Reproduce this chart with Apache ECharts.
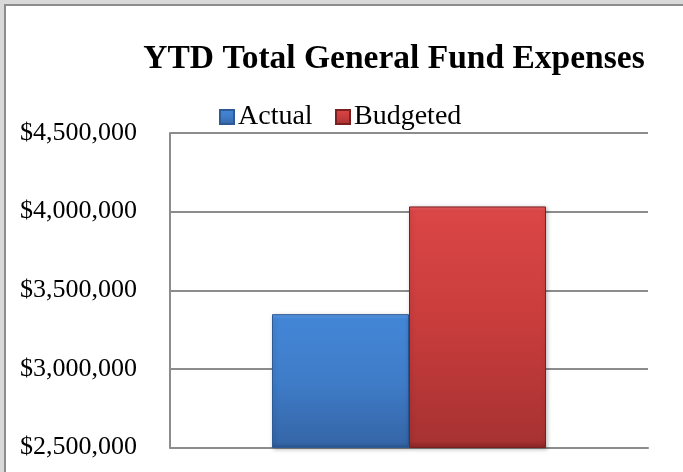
<!DOCTYPE html>
<html>
<head>
<meta charset="utf-8">
<script src="https://cdn.jsdelivr.net/npm/echarts@6/dist/echarts.min.js"></script>
<style>
html,body{margin:0;padding:0;background:#fff;}
#c{width:683px;height:472px;}
</style>
</head>
<body>
<div id="c"></div>
<script>
var categories = ['YTD'];
var seriesNames = ['Actual', 'Budgeted'];
var actualValues = [3348000];
var budgetedValues = [4033000];
var yTicks = [2500000, 3000000, 3500000, 4000000, 4500000];

var chart = echarts.init(document.getElementById('c'));
var serif = '"Liberation Serif", "DejaVu Serif", serif';
function fmt(v){ return '$' + v.toString().replace(/\B(?=(\d{3})+(?!\d))/g, ','); }
var legendText = { fontFamily: serif, fontSize: 28, color: '#000', padding: [0,0,0,-1] };

var option = {
  backgroundColor: '#ffffff',
  animation: false,
  title: {
    text: 'YTD Total General Fund Expenses',
    left: 389, top: 37, textAlign: 'center',
    textStyle: { fontFamily: serif, fontWeight: 'bold', fontSize: 33.5, color: '#000' }
  },
  legend: [
    { data: [seriesNames[0]], left: 214, top: 98, icon: 'rect', itemWidth: 14, itemHeight: 14, textStyle: legendText },
    { data: [seriesNames[1]], left: 330, top: 98, icon: 'rect', itemWidth: 14, itemHeight: 14, textStyle: legendText }
  ],
  grid: { left: 170, right: 35, top: 133, bottom: 24.5, containLabel: false },
  xAxis: {
    type: 'category', data: categories,
    axisLine: { show: true, lineStyle: { color: '#8c8c8c', width: 2 } },
    axisTick: { show: false }, axisLabel: { show: false }
  },
  yAxis: {
    type: 'value', min: yTicks[0], max: yTicks[yTicks.length-1], interval: 500000,
    axisLine: { show: true, lineStyle: { color: '#8c8c8c', width: 2 } },
    axisTick: { show: false },
    splitLine: { lineStyle: { color: '#8c8c8c', width: 2 } },
    axisLabel: { formatter: fmt, fontFamily: serif, fontSize: 26, color: '#000', margin: 33 }
  },
  series: [
    {
      name: seriesNames[0], type: 'bar', data: actualValues,
      barWidth: 137, barGap: '0%',
      itemStyle: {
        color: new echarts.graphic.LinearGradient(0,0,0,1,[
          {offset:0, color:'#5b9be8'},{offset:0.04,color:'#4386d6'},{offset:0.5,color:'#3f7cc8'},{offset:0.96,color:'#3566a8'},{offset:1,color:'#2b5690'}
        ]),
        borderColor: '#2e5a96', borderWidth: 1,
        shadowColor: 'rgba(0,0,0,0.25)', shadowBlur: 4, shadowOffsetX: 1, shadowOffsetY: 1
      }
    },
    {
      name: seriesNames[1], type: 'bar', data: budgetedValues,
      barWidth: 137, barGap: '0%',
      itemStyle: {
        color: new echarts.graphic.LinearGradient(0,0,0,1,[
          {offset:0, color:'#f06060'},{offset:0.02,color:'#db4646'},{offset:0.5,color:'#c83c3c'},{offset:0.97,color:'#a83232'},{offset:1,color:'#8a2626'}
        ]),
        borderColor: '#7a2020', borderWidth: 1,
        shadowColor: 'rgba(0,0,0,0.25)', shadowBlur: 4, shadowOffsetX: 1, shadowOffsetY: 1
      }
    }
  ],
  graphic: [
    { type: 'rect', shape: { x: 0, y: 0, width: 683, height: 4 }, style: { fill: '#d9d9d9' }, z: 100 },
    { type: 'rect', shape: { x: 0, y: 0, width: 4, height: 472 }, style: { fill: '#d9d9d9' }, z: 100 },
    { type: 'rect', shape: { x: 4, y: 4, width: 679, height: 2 }, style: { fill: '#8c8c8c' }, z: 100 },
    { type: 'rect', shape: { x: 4, y: 4, width: 2, height: 468 }, style: { fill: '#8c8c8c' }, z: 100 }
  ]
};
chart.setOption(option);
</script>
</body>
</html>
